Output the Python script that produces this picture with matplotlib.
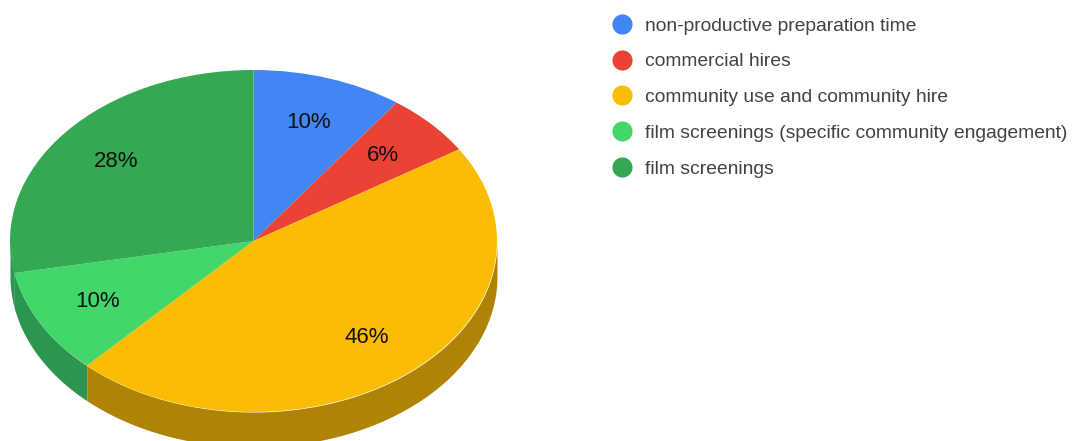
import numpy as np
import matplotlib
matplotlib.use('Agg')
import matplotlib.pyplot as plt
from matplotlib.lines import Line2D

plt.rcParams['font.family'] = ['Liberation Sans', 'DejaVu Sans']

labels = ['non-productive preparation time', 'commercial hires',
          'community use and community hire',
          'film screenings (specific community engagement)', 'film screenings']
values = [10, 6, 46, 10, 28]
colors = ['#4285F4', '#EA4335', '#FBBC04', '#43D76B', '#34A853']
side_colors = ['#2E6ABF', '#B03228', '#AF8303', '#2E9550', '#2E9550']

W, H = 1073, 441
cx, cy = 253.5, 241    # pie centre in pixels
rx, ry = 243.5, 171    # ellipse radii in pixels
depth = 35 / ry        # thickness of the side wall

fig = plt.figure(figsize=(W / 100, H / 100), dpi=100)
ax = fig.add_axes([0, 0, 1, 1])

# side wall first, only the front half can be seen
edges = 90 - np.cumsum([0] + values) * 3.6
for i in range(len(values)):
    t = np.radians(np.linspace(edges[i + 1], edges[i], 200))
    t = t[np.sin(t) <= 0]
    if len(t) == 0:
        continue
    x = np.cos(t)
    y = np.sin(t)
    ax.fill_between(x, y, y - depth, color=side_colors[i], lw=0, zorder=1)

wedges, texts, pcts = ax.pie(values, colors=colors, startangle=90, counterclock=False,
                             autopct='%.0f%%', pctdistance=0.73,
                             wedgeprops={'lw': 0}, textprops={'fontsize': 16, 'color': '#111111'})
for w in wedges:
    w.set_zorder(2)
for p in pcts:
    p.set_zorder(3)

# pie() forces equal aspect, the chart is tilted so undo that
ax.set_aspect('auto')
ax.set_xlim(-cx / rx, (W - cx) / rx)
ax.set_ylim(-(H - cy) / ry, cy / ry)
ax.axis('off')

handles = [Line2D([], [], ls='none', marker='o', ms=14.5, mfc=c, mec=c, mew=0) for c in colors]
fig.legend(handles, labels, loc='upper left', bbox_to_anchor=(606.4 / W, 1 - 17 / H),
           frameon=False, fontsize=13.9, labelcolor='#424242', labelspacing=0.95,
           handlelength=1.6, handletextpad=0.39, borderpad=0, borderaxespad=0)

fig.savefig('out.png', dpi=100)
